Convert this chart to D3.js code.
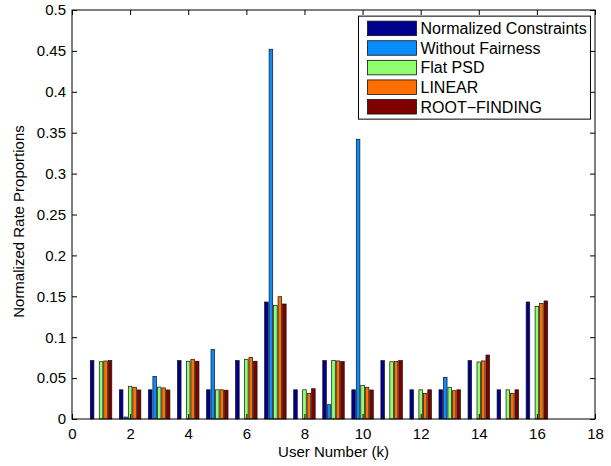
<!DOCTYPE html>
<html>
<head>
<meta charset="utf-8">
<script src="https://cdn.jsdelivr.net/npm/d3@7"></script>
<style>
  body { margin: 0; background: #fff; }
  svg text { font-family: "Liberation Sans", Arial, Helvetica, sans-serif; }
</style>
</head>
<body>
<svg id="chart" width="611" height="466"></svg>
<script>
// user numbers along the x axis
const users = d3.range(1, 17);

// one array per method, one value per user
const normalizedConstraints = [0.0714, 0.0357, 0.0357, 0.0714, 0.0357, 0.0714, 0.1430, 0.0357,
  0.0714, 0.0357, 0.0714, 0.0357, 0.0357, 0.0714, 0.0357, 0.1430];
const withoutFairness = [0, 0.0024, 0.052, 0, 0.085, 0, 0.452, 0,
  0.0175, 0.342, 0, 0, 0.051, 0, 0, 0];
const flatPSD = [0.0700, 0.0400, 0.0390, 0.0706, 0.0357, 0.0730, 0.1390, 0.0357,
  0.0714, 0.0412, 0.0700, 0.0357, 0.0388, 0.0697, 0.0357, 0.1377];
const linear = [0.0709, 0.0388, 0.0380, 0.0730, 0.0357, 0.0754, 0.1495, 0.0314,
  0.0710, 0.0388, 0.0702, 0.0314, 0.0346, 0.0710, 0.0314, 0.1414];
const rootFinding = [0.0714, 0.0355, 0.0355, 0.0706, 0.0352, 0.0706, 0.1406, 0.0370,
  0.0702, 0.0355, 0.0714, 0.0357, 0.0357, 0.0782, 0.0357, 0.1443];

const seriesNames = ['Normalized Constraints', 'Without Fairness', 'Flat PSD', 'LINEAR', 'ROOT\u2212FINDING'];
const seriesColors = ['#00008f', '#0a8cff', '#8fff70', '#ff7000', '#800000'];
const seriesValues = [normalizedConstraints, withoutFairness, flatPSD, linear, rootFinding];

const xTicks = d3.range(0, 19, 2);
const yTicks = d3.range(0, 0.5001, 0.05);

const svg = d3.select('#chart');
const margin = { left: 72, right: 16, top: 10, bottom: 47 };
const width = 611 - margin.left - margin.right;
const height = 466 - margin.top - margin.bottom;

const x = d3.scaleLinear().domain([0, 18]).range([0, width]);
const y = d3.scaleLinear().domain([0, 0.5]).range([height, 0]);

const g = svg.append('g').attr('transform', `translate(${margin.left},${margin.top})`);

// grouped bars, MATLAB style: group width ~0.77, bar ~0.8 of slot
const nSeries = seriesValues.length;
const groupWidth = 0.77;
const slot = groupWidth / nSeries;
const barW = slot * 0.8;

seriesValues.forEach((vals, s) => {
  g.append('g')
    .selectAll('rect')
    .data(users.map((u, i) => ({ u, v: vals[i] })).filter(d => d.v > 0))
    .join('rect')
    .attr('x', d => x(d.u - groupWidth / 2 + s * slot + (slot - barW) / 2))
    .attr('width', x(barW) - x(0))
    .attr('y', d => y(d.v))
    .attr('height', d => y(0) - y(d.v))
    .attr('fill', seriesColors[s])
    .attr('stroke', '#111')
    .attr('stroke-width', 0.7);
});

// axes with inward ticks on all four sides
const tickLen = 5;
const axisFont = '15px';
const axBottom = g.append('g').attr('transform', `translate(0,${height})`)
  .call(d3.axisBottom(x).tickValues(xTicks).tickSizeInner(-tickLen).tickSizeOuter(0).tickPadding(9));
const axTop = g.append('g')
  .call(d3.axisTop(x).tickValues(xTicks).tickSizeInner(-tickLen).tickSizeOuter(0).tickFormat(''));
const axLeft = g.append('g')
  .call(d3.axisLeft(y).tickValues(yTicks).tickSizeInner(-tickLen).tickSizeOuter(0)
    .tickPadding(6).tickFormat(d => d3.format('~g')(+d.toFixed(2))));
const axRight = g.append('g').attr('transform', `translate(${width},0)`)
  .call(d3.axisRight(y).tickValues(yTicks).tickSizeInner(-tickLen).tickSizeOuter(0).tickFormat(''));

[axBottom, axTop, axLeft, axRight].forEach(a => {
  a.select('.domain').remove();
  a.selectAll('line').attr('stroke', '#000').attr('stroke-width', 1);
  a.selectAll('text').attr('font-size', axisFont).attr('fill', '#000')
    .style('font-family', '"Liberation Sans", Arial, sans-serif');
});

g.append('rect')
  .attr('x', 0).attr('y', 0).attr('width', width).attr('height', height)
  .attr('fill', 'none').attr('stroke', '#000').attr('stroke-width', 1);

// axis titles
g.append('text')
  .attr('x', width / 2).attr('y', height + 38)
  .attr('text-anchor', 'middle').attr('font-size', '15px')
  .text('User Number (k)');
g.append('text')
  .attr('transform', `translate(${-48},${height / 2 + 7}) rotate(-90)`)
  .attr('text-anchor', 'middle').attr('font-size', '15px')
  .text('Normalized Rate Proportions');

// legend
const legend = g.append('g').attr('transform', `translate(${x(9.86)},${y(0.4925)})`);
legend.append('rect')
  .attr('width', 232).attr('height', 103)
  .attr('fill', '#fff').attr('stroke', '#000').attr('stroke-width', 1);
seriesNames.forEach((name, i) => {
  const row = legend.append('g').attr('transform', `translate(9,${5 + i * 19.6})`);
  row.append('rect')
    .attr('width', 49).attr('height', 14.5)
    .attr('fill', seriesColors[i]).attr('stroke', '#111').attr('stroke-width', 0.8);
  row.append('text')
    .attr('x', 53).attr('y', 13)
    .attr('font-size', '16px')
    .text(name);
});
</script>
</body>
</html>
